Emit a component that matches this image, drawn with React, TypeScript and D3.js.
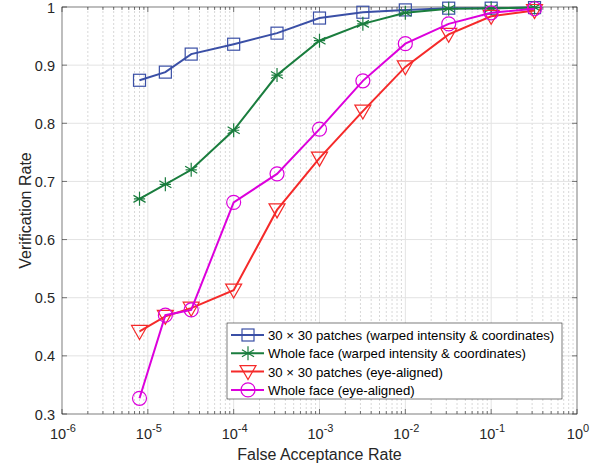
import { useEffect, useRef } from 'react'
import * as d3 from 'd3'

const farValues = [8e-6, 1.6e-5, 3.2e-5, 1e-4, 3.2e-4, 1e-3, 3.2e-3, 1e-2, 3.2e-2, 1e-1, 3.2e-1]

const patchesWarped = [0.874, 0.888, 0.919, 0.936, 0.955, 0.981, 0.991, 0.995, 0.998, 0.998, 0.999]
const wholeWarped = [0.670, 0.695, 0.720, 0.788, 0.883, 0.942, 0.971, 0.990, 0.997, 0.998, 0.999]
const patchesEye = [0.442, 0.468, 0.482, 0.513, 0.651, 0.740, 0.821, 0.897, 0.953, 0.984, 0.994]
const wholeEye = [0.327, 0.470, 0.479, 0.664, 0.713, 0.790, 0.873, 0.937, 0.971, 0.990, 0.997]

const seriesNames = [
  '30 \u00d7 30 patches (warped intensity & coordinates)',
  'Whole face (warped intensity & coordinates)',
  '30 \u00d7 30 patches (eye-aligned)',
  'Whole face (eye-aligned)',
]

const xTickExps = [-6, -5, -4, -3, -2, -1, 0]
const yTicks = [0.3, 0.4, 0.5, 0.6, 0.7, 0.8, 0.9, 1]

export default function App() {
  const svgRef = useRef(null)

  useEffect(() => {
    const svg = d3.select(svgRef.current)
    svg.selectAll('*').remove()

    const margin = { top: 7, right: 25, bottom: 53, left: 62 }
    const W = 602, H = 467
    const width = W - margin.left - margin.right
    const height = H - margin.top - margin.bottom
    const font = '"Liberation Sans", Arial, sans-serif'

    const g = svg.append('g').attr('transform', `translate(${margin.left},${margin.top})`)

    const x = d3.scaleLog().domain([1e-6, 1]).range([0, width])
    const y = d3.scaleLinear().domain([0.3, 1]).range([height, 0])

    g.append('rect').attr('width', width).attr('height', height).attr('fill', '#fff')

    // minor grid (x)
    const minor = []
    for (let e = -6; e < 0; e++) for (let k = 2; k <= 9; k++) minor.push(k * Math.pow(10, e))
    g.selectAll('.minor').data(minor).enter().append('line')
      .attr('x1', d => x(d)).attr('x2', d => x(d)).attr('y1', 0).attr('y2', height)
      .attr('stroke', '#d8d8d8').attr('stroke-width', 1).attr('stroke-dasharray', '2,2')

    // major grid
    g.selectAll('.gx').data(xTickExps.slice(1, -1)).enter().append('line')
      .attr('x1', d => x(Math.pow(10, d))).attr('x2', d => x(Math.pow(10, d)))
      .attr('y1', 0).attr('y2', height)
      .attr('stroke', '#e3e3e3').attr('stroke-width', 1)
    g.selectAll('.gy').data(yTicks.slice(1, -1)).enter().append('line')
      .attr('x1', 0).attr('x2', width).attr('y1', d => y(d)).attr('y2', d => y(d))
      .attr('stroke', '#e3e3e3').attr('stroke-width', 1)

    // ticks inside (bottom, top, left, right)
    const tickColor = '#262626'
    ;[0, height].forEach((yy, i) => {
      const dir = i === 0 ? 1 : -1
      g.selectAll(null).data(xTickExps).enter().append('line')
        .attr('x1', d => x(Math.pow(10, d))).attr('x2', d => x(Math.pow(10, d)))
        .attr('y1', yy).attr('y2', yy + dir * 5)
        .attr('stroke', tickColor).attr('stroke-width', 0.6)
      g.selectAll(null).data(minor).enter().append('line')
        .attr('x1', d => x(d)).attr('x2', d => x(d))
        .attr('y1', yy).attr('y2', yy + dir * 3)
        .attr('stroke', tickColor).attr('stroke-width', 0.6)
    })
    ;[0, width].forEach((xx, i) => {
      const dir = i === 0 ? 1 : -1
      g.selectAll(null).data(yTicks).enter().append('line')
        .attr('x1', xx).attr('x2', xx + dir * 5)
        .attr('y1', d => y(d)).attr('y2', d => y(d))
        .attr('stroke', tickColor).attr('stroke-width', 0.6)
    })

    g.append('rect').attr('width', width).attr('height', height)
      .attr('fill', 'none').attr('stroke', tickColor).attr('stroke-width', 0.6)

    // tick labels
    const xl = g.selectAll('.xl').data(xTickExps).enter().append('text')
      .attr('x', d => x(Math.pow(10, d)) + 1).attr('y', height + 25)
      .attr('text-anchor', 'middle')
      .style('font-family', font).style('font-size', '14.5px').style('fill', '#262626')
    xl.append('tspan').text('10')
    xl.append('tspan').attr('dy', -7).style('font-size', '11px').text(d => String(d))

    g.selectAll('.yl').data(yTicks).enter().append('text')
      .attr('x', -7).attr('y', d => y(d) + 5.5)
      .attr('text-anchor', 'end')
      .style('font-family', font).style('font-size', '14.5px').style('fill', '#262626')
      .text(d => (d === 1 ? '1' : d3.format('.1f')(d)))

    g.append('text')
      .attr('x', width / 2).attr('y', height + 46)
      .attr('text-anchor', 'middle')
      .style('font-family', font).style('font-size', '16px').style('fill', '#262626')
      .text('False Acceptance Rate')
    g.append('text')
      .attr('transform', `translate(${-31},${height / 2}) rotate(-90)`)
      .attr('text-anchor', 'middle')
      .style('font-family', font).style('font-size', '16px').style('fill', '#262626')
      .text('Verification Rate')

    // series
    const series = [
      { values: patchesWarped, color: '#3a4fa6', marker: 'square' },
      { values: wholeWarped, color: '#1a7d3e', marker: 'star' },
      { values: patchesEye, color: '#f52a2a', marker: 'triangle' },
      { values: wholeEye, color: '#dc00dc', marker: 'circle' },
    ]

    const drawMarker = (sel, type, color) => {
      if (type === 'square') {
        sel.append('rect').attr('x', -6).attr('y', -6).attr('width', 12).attr('height', 12)
          .attr('fill', 'none').attr('stroke', color).attr('stroke-width', 1.2)
      } else if (type === 'circle') {
        sel.append('circle').attr('r', 7).attr('fill', 'none').attr('stroke', color).attr('stroke-width', 1.2)
      } else if (type === 'triangle') {
        sel.append('path').attr('d', 'M-8,-6L8,-6L0,8Z').attr('fill', 'none')
          .attr('stroke', color).attr('stroke-width', 1.2)
      } else {
        const r = 7
        const d = [0, 60, 120].map(a => {
          const t = (a + 90) * Math.PI / 180
          return `M${-r * Math.cos(t)},${-r * Math.sin(t)}L${r * Math.cos(t)},${r * Math.sin(t)}`
        }).join('') + `M${-r * 0.8},0L${r * 0.8},0`
        sel.append('path').attr('d', d).attr('stroke', color).attr('stroke-width', 1.2)
      }
    }

    const line = d3.line().x(d => x(d[0])).y(d => y(d[1]))

    series.forEach(s => {
      const pts = farValues.map((f, i) => [f, s.values[i]])
      g.append('path').datum(pts).attr('d', line)
        .attr('fill', 'none').attr('stroke', s.color).attr('stroke-width', 2)
      g.selectAll(null).data(pts).enter().append('g')
        .attr('transform', d => `translate(${x(d[0])},${y(d[1])})`)
        .each(function () { drawMarker(d3.select(this), s.marker, s.color) })
    })

    // legend
    const lg = svg.append('g').attr('transform', 'translate(227,323)')
    lg.append('rect').attr('width', 335).attr('height', 76)
      .attr('fill', '#fff').attr('stroke', '#262626').attr('stroke-width', 0.6)
    series.forEach((s, i) => {
      const row = lg.append('g').attr('transform', `translate(0,${12 + i * 18.3})`)
      row.append('line').attr('x1', 4).attr('x2', 37).attr('y1', 0).attr('y2', 0)
        .attr('stroke', s.color).attr('stroke-width', 2)
      const m = row.append('g').attr('transform', 'translate(21,0)')
      drawMarker(m, s.marker, s.color)
      row.append('text').attr('x', 41).attr('y', 5)
        .style('font-family', font).style('font-size', '13.2px').style('fill', '#000')
        .text(seriesNames[i])
    })
  }, [])

  return (
    <svg ref={svgRef} width={602} height={467}
      style={{ position: 'absolute', left: 0, top: 0, background: '#fff' }} />
  )
}
